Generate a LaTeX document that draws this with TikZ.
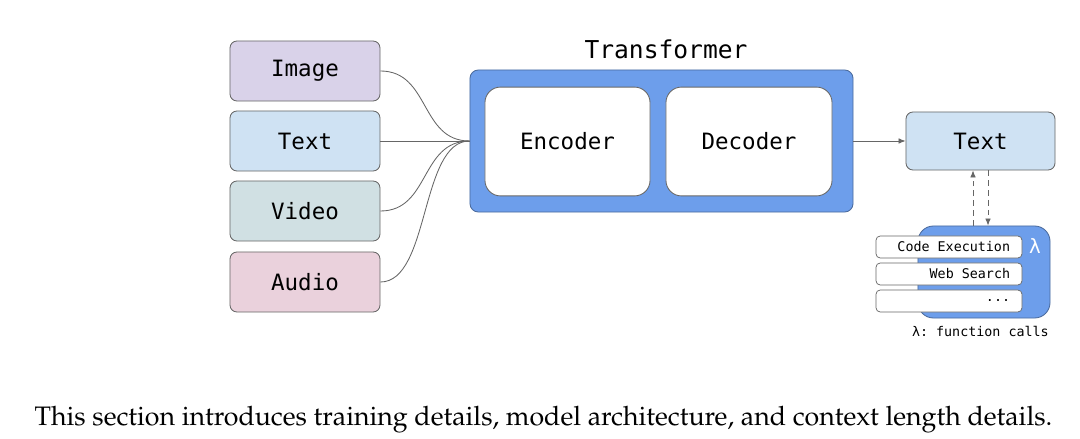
\documentclass[tikz,border=0pt]{standalone}
\usepackage[T1]{fontenc}
\usepackage{fontspec}
\setmonofont{DejaVu Sans Mono}
\newfontfamily\lamfont{DejaVu Sans}
\newcommand\captfont{\fontencoding{T1}\fontfamily{ppl}\selectfont}
\usetikzlibrary{arrows.meta}
\definecolor{imgfill}{HTML}{D9D2E9}
\definecolor{txtfill}{HTML}{CFE2F3}
\definecolor{vidfill}{HTML}{D0E0E3}
\definecolor{audfill}{HTML}{EAD1DC}
\definecolor{tfblue}{HTML}{6D9EEB}
\definecolor{tfedge}{HTML}{4A6A9C}
\definecolor{edgegray}{HTML}{666666}

\begin{document}
\begin{tikzpicture}[x=0.025cm, y=-0.025cm,
    modal/.style={draw=edgegray, line width=0.6pt, rounded corners=5pt, minimum width=3.75cm, minimum height=1.5cm, font=\ttfamily\fontsize{16}{19}\selectfont},
    inner/.style={draw=edgegray, line width=0.6pt, fill=white, rounded corners=11pt, minimum height=2.72cm, font=\ttfamily\fontsize{16}{19}\selectfont},
    slot/.style={draw=edgegray, line width=0.5pt, fill=white, rounded corners=3pt, minimum width=3.65cm, minimum height=0.55cm},
    slotlabel/.style={anchor=east, inner sep=0pt, font=\ttfamily\fontsize{9.5}{11}\selectfont},
    link/.style={edgegray, line width=0.6pt},
    tip/.style={-{Latex[length=5pt,width=4pt]}}]
  \fill[white] (0,0) rectangle (1080,436);
  % inputs
  \node[modal, fill=imgfill] (img) at (305,71) {Image};
  \node[modal, fill=txtfill] (txt) at (305,141) {Text};
  \node[modal, fill=vidfill] (vid) at (305,211) {Video};
  \node[modal, fill=audfill] (aud) at (305,282) {Audio};
  % transformer
  \node[draw=tfedge, fill=tfblue, line width=0.6pt, rounded corners=6pt, minimum width=9.575cm, minimum height=3.55cm] (tf) at (661.5,141) {};
  \node[font=\ttfamily\fontsize{17.5}{21}\selectfont] (tftitle) at (666,49) {Transformer};
  \node[inner, minimum width=4.125cm] (enc) at (567.5,141.5) {Encoder};
  \node[inner, minimum width=4.15cm] (dec) at (749,141.5) {Decoder};
  % output
  \node[modal, fill=txtfill, minimum width=3.725cm, minimum height=1.45cm] (out) at (980.5,141) {Text};
  % function calls
  \node[draw=tfedge, fill=tfblue, line width=0.6pt, rounded corners=11pt, minimum width=3.3cm, minimum height=2.3cm] (fn) at (984,272) {};
  \node[slot] (code) at (949,247) {};
  \node[slot] (web) at (949,274) {};
  \node[slot] (more) at (949,301) {};
  \node[slotlabel] (codetxt) at ([xshift=-0.3cm]code.east) {Code Execution};
  \node[slotlabel] (webtxt) at ([xshift=-0.3cm]web.east) {Web Search};
  \node[slotlabel] (moretxt) at ([xshift=-0.3cm]more.east) {...};
  \node[text=white, font=\lamfont\fontsize{14}{16}\selectfont] (lam) at (1035,246) {λ};
  \node[anchor=east, inner sep=0pt, font=\ttfamily\fontsize{9.5}{11}\selectfont] (fnnote) at (1049,331) {λ: function calls};
  % connectors
  \draw[link] (img.east) .. controls (430,71) and (420,141) .. (tf.west);
  \draw[link] (txt.east) -- (tf.west);
  \draw[link] (vid.east) .. controls (430,211) and (420,141) .. (tf.west);
  \draw[link] (aud.east) .. controls (430,282) and (420,141) .. (tf.west);
  \draw[link, tip] (tf.east) -- (out.west);
  \draw[link, tip, dash pattern=on 4pt off 3pt] (fn.north -| 973,0) -- (out.south -| 973,0);
  \draw[link, tip, dash pattern=on 4pt off 3pt] (out.south -| 988,0) -- (fn.north -| 988,0);
  % caption
  \node (capt) at (543.5,420) {\resizebox{25.43cm}{!}{\captfont This section introduces training details, model architecture, and context length details.}};
\end{tikzpicture}
\end{document}
